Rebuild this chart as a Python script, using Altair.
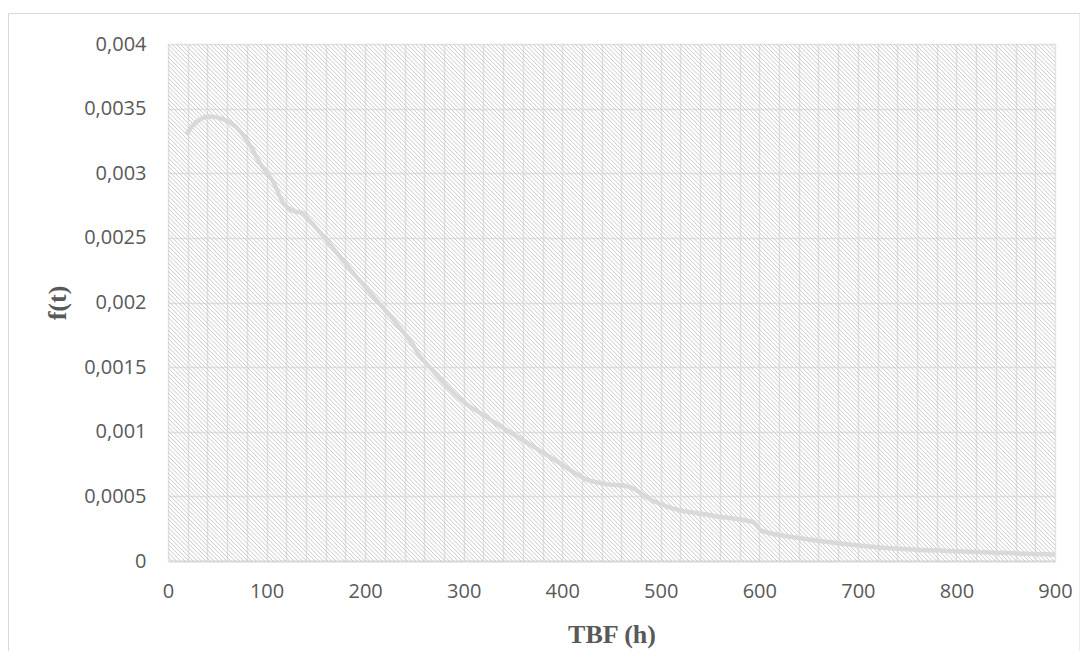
import altair as alt
import pandas as pd
import numpy as np

# Curve values
tbf = [19, 25, 42, 55, 70, 83, 93, 107, 117, 127, 137, 143, 160, 175, 190, 208,
       225, 240, 248, 255, 262, 276, 300, 320, 340, 374, 401, 425, 445, 465, 475,
       486, 509, 553, 594, 602, 638, 689, 722, 800, 900]
ft = [0.00330, 0.00337, 0.00344, 0.00342, 0.00335, 0.00322, 0.00308, 0.00293,
      0.00277, 0.00271, 0.00269, 0.00264, 0.00249, 0.00235, 0.00221, 0.00205,
      0.00190, 0.00176, 0.00168, 0.00159, 0.00153, 0.00141, 0.00123, 0.00113,
      0.00103, 0.00087, 0.00074, 0.00063, 0.000595, 0.00058, 0.00055, 0.00049,
      0.000415, 0.00035, 0.00030, 0.000235, 0.00018, 0.00013, 0.000105,
      0.000075, 0.00005]

x_ticks = list(range(0, 901, 20))
y_ticks = [0, 0.0005, 0.001, 0.0015, 0.002, 0.0025, 0.003, 0.0035, 0.004]

W, H = 887, 517
GRAY = "#595959"
LINE = "#d9d9d9"

df = pd.DataFrame({"t": tbf, "f": ft})

# decorative hatch (background pattern), pixel space
step = 4.2
x0 = np.arange(-H, W + step, step)
hatch = pd.DataFrame({"x": x0, "x2": x0 + H, "y": 0.0, "y2": float(H)})

xscale = alt.Scale(domain=[0, 900], nice=False, zero=False)
yscale = alt.Scale(domain=[0, 0.004], nice=False)

hatch_layer = alt.Chart(hatch).mark_rule(
    clip=True, stroke="#c9c9c9", strokeWidth=1
).encode(
    x=alt.X("x:Q", scale=None, axis=None),
    x2="x2:Q",
    y=alt.Y("y:Q", scale=None, axis=None),
    y2="y2:Q",
)

frame = alt.Chart(pd.DataFrame({"a": [0]})).mark_rect(
    fill=None, stroke=LINE, strokeWidth=1, clip=False
).encode(
    x=alt.value(-159.5), x2=alt.value(912),
    y=alt.value(-30.5), y2=alt.value(625),
)

line = alt.Chart(df).mark_line(
    color=LINE, strokeWidth=4.5, interpolate="monotone"
).encode(
    x=alt.X("t:Q", scale=xscale, axis=alt.Axis(
        values=x_ticks,
        labelExpr="datum.value % 100 == 0 ? datum.label : ''",
        format="d",
        title="TBF (h)",
        grid=True, gridColor="#e3e3e3", gridWidth=1.5,
        ticks=False, domain=True, domainColor="#d9d9d9", domainWidth=2,
        labelFont="Open Sans", labelFontSize=20, labelColor=GRAY,
        labelPadding=20, labelFlush=False, labelOverlap=False,
        titleFont="Liberation Serif", titleFontSize=26, titleFontWeight="bold",
        titleColor=GRAY, titleX=W / 2, titleY=73,
        titleBaseline="middle", titleAlign="center",
    )),
    y=alt.Y("f:Q", scale=yscale, axis=alt.Axis(
        values=y_ticks,
        labelExpr="replace(format(datum.value, '~g'), '.', ',')",
        title="f(t)",
        grid=True, gridColor="#e3e3e3", gridWidth=1.5,
        ticks=False, domain=False,
        labelFont="Open Sans", labelFontSize=20, labelColor=GRAY,
        labelPadding=22, labelFlush=False, labelOverlap=False,
        titleFont="Liberation Serif", titleFontSize=26, titleFontWeight="bold",
        titleColor=GRAY, titleX=-111, titleY=H / 2,
        titleBaseline="middle", titleAlign="center", titleAngle=270,
    )),
)

chart = alt.layer(hatch_layer, line, frame).resolve_scale(
    x="independent", y="independent"
).properties(
    width=W, height=H,
    autosize=alt.AutoSizeParams(type="none"),
    padding={"left": 160, "top": 36, "right": 25, "bottom": 90},
).configure_view(stroke=None)

chart.save("out.html", embed_options={"renderer": "svg", "actions": False})
